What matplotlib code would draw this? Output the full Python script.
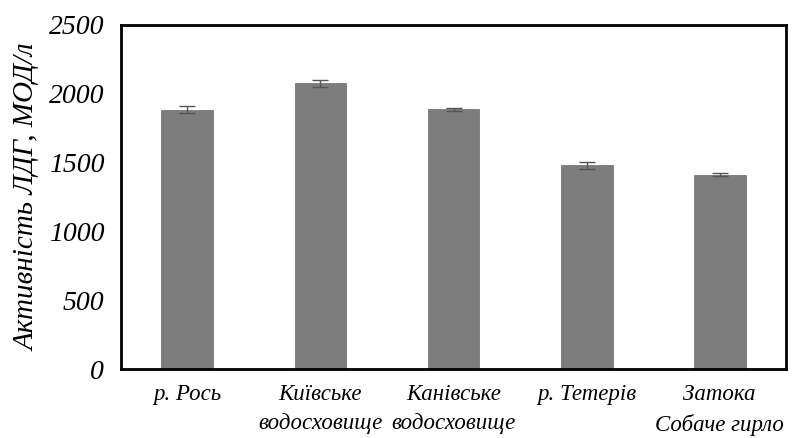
import matplotlib.pyplot as plt
import numpy as np

sites = ['р. Рось', 'Київське\nводосховище', 'Канівське\nводосховище',
         'р. Тетерів', 'Затока\nСобаче гирло']
ldh = [1885, 2075, 1888, 1480, 1413]
err = [28, 25, 12, 25, 12]
yticks = [0, 500, 1000, 1500, 2000, 2500]

plt.rcParams['font.family'] = 'Liberation Serif'
plt.rcParams['font.style'] = 'italic'

fig = plt.figure(figsize=(7.95, 4.38), dpi=100)
ax = fig.add_axes([0.152, 0.1575, 0.837, 0.7855])

x = np.arange(len(sites))
ax.bar(x, ldh, width=0.39, color='#7d7d7d', edgecolor='#6a6a6a', linewidth=0.5,
       yerr=err, error_kw=dict(ecolor='#555555', elinewidth=1, capsize=6, capthick=1))

ax.set_xlim(-0.5, 4.5)
ax.set_ylim(0, 2500)
ax.set_yticks(yticks)
ax.set_yticklabels([str(t) for t in yticks], fontsize=20)
ax.set_xticks(x)
ax.set_xticklabels(sites, fontsize=16.5, linespacing=1.5, va='top')
ax.tick_params(length=0, pad=11)
ax.tick_params(axis='y', pad=12)
for s in ax.spines.values():
    s.set_linewidth(2)
ax.set_ylabel('Активність ЛДГ, МОД/л', fontsize=21, labelpad=6)

fig.savefig('out.png', dpi=100)
